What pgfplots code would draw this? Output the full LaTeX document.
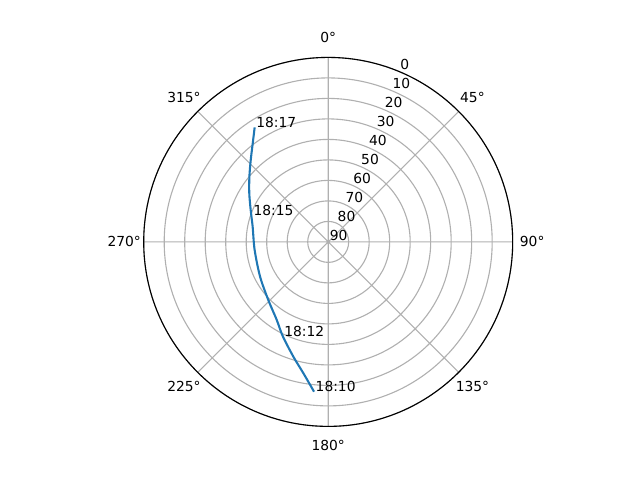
\documentclass[border=0pt]{standalone}
\usepackage{fontspec}
\setmainfont{DejaVu Sans}
\usepackage{pgfplots}
\usepackage{pgfplotstable}
\usepgfplotslibrary{polar}
\pgfplotsset{compat=1.18}

\definecolor{mplblue}{HTML}{1F77B4}
\definecolor{gridgray}{HTML}{B0B0B0}

% pass track: azimuth (deg, clockwise from north), elevation (deg)
\pgfplotstableread{
az    el
185.4 16.6
190.7 24.8
196.9 31.5
205.8 39.0
213.4 44.4
225.9 49.3
243.0 52.7
263.7 53.9
281.4 52.4
292.4 49.1
301.6 44.8
309.6 40.1
316.6 35.0
322.6 29.4
327.3 23.6
}\track

\pgfplotstableread{
az    el   label
185.4 16.6 18:10
205.8 39.0 18:12
288.8 50.7 18:15
327.3 23.6 18:17
}\stamps

\begin{document}
\begin{tikzpicture}
% page = 640x480 px, polar centre at (328.2, 241.9) px
\path[use as bounding box, x=0.7227pt, y=0.7227pt] (-328.2,-238.1) rectangle (311.8,241.9);
\begin{polaraxis}[
    at={(0,0)}, anchor=origin,
    scale only axis,
    width=266.68pt, height=266.68pt,
    clip=false,
    ymin=0, ymax=90,
    xtick={0,45,...,315},
    ytick={0,10,...,90},
    xticklabels={}, yticklabels={},
    xmajorgrids, ymajorgrids,
    major grid style={gridgray, line width=0.8pt},
    major tick length=0pt,
    x axis line style={black, line width=0.8pt},
    y axis line style={draw=none},
    font=\fontsize{10}{12}\selectfont,
]
\addplot[mplblue, line width=1.5pt, smooth, tension=0.5]
    table[x expr=90-\thisrow{az}, y expr=90-\thisrow{el}] {\track};
\addplot[draw=none, nodes near coords, point meta=explicit symbolic,
    every node near coord/.style={anchor=base west, inner sep=0pt, xshift=1pt, text=black}]
    table[x expr=90-\thisrow{az}, y expr=90-\thisrow{el}, meta=label] {\stamps};

% azimuth labels
\node at (axis cs:90,99.5)   {0°};
\node at (axis cs:45,99.5)   {45°};
\node at (axis cs:0,99.5)    {90°};
\node at (axis cs:-45,99.5)  {135°};
\node at (axis cs:-90,99.5)  {180°};
\node at (axis cs:-135,99.5) {225°};
\node at (axis cs:180,99.5)  {270°};
\node at (axis cs:135,99.5)  {315°};

% elevation labels along 22.5 deg azimuth
\node[anchor=south west, inner sep=1pt] at (axis cs:67.5,0)  {90};
\node[anchor=south west, inner sep=1pt] at (axis cs:67.5,10) {80};
\node[anchor=south west, inner sep=1pt] at (axis cs:67.5,20) {70};
\node[anchor=south west, inner sep=1pt] at (axis cs:67.5,30) {60};
\node[anchor=south west, inner sep=1pt] at (axis cs:67.5,40) {50};
\node[anchor=south west, inner sep=1pt] at (axis cs:67.5,50) {40};
\node[anchor=south west, inner sep=1pt] at (axis cs:67.5,60) {30};
\node[anchor=south west, inner sep=1pt] at (axis cs:67.5,70) {20};
\node[anchor=south west, inner sep=1pt] at (axis cs:67.5,80) {10};
\node[anchor=south west, inner sep=1pt] at (axis cs:67.5,90) {0};
\end{polaraxis}
\end{tikzpicture}
\end{document}
